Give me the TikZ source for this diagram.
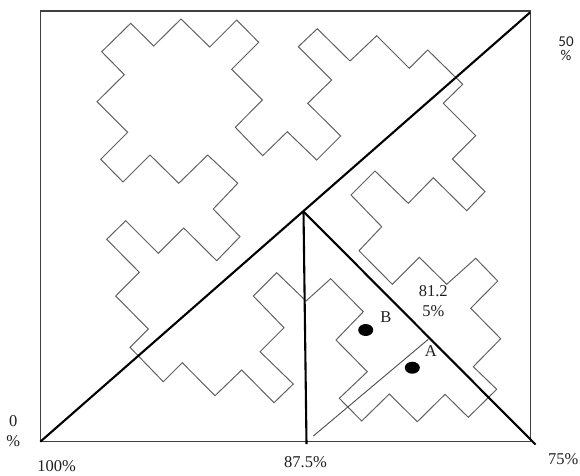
\documentclass[tikz,border=0pt]{standalone}
\usepackage{fontspec}
\setmainfont{Liberation Serif}
\newfontfamily\sanslbl{Carlito}
\usetikzlibrary{shapes.geometric}
\begin{document}
\begin{tikzpicture}[x=1pt,y=-1pt,
  frame/.style={draw=black!75, line width=1.3pt},
  heavy/.style={draw=black, line width=2.1pt},
  zig/.style={draw=black!62, line width=1pt, line join=miter},
  thinline/.style={draw=black!70, line width=0.9pt},
  lbl/.style={anchor=base, inner sep=0pt, font=\fontsize{16.5}{18}\selectfont, text=black!88},
  slbl/.style={lbl, font=\sanslbl\fontsize{15}{17}\selectfont},
  dotmark/.style={ellipse, fill=black, inner sep=0pt, minimum width=15pt, minimum height=12pt}
]
\useasboundingbox (0,0) rectangle (580,475);

% corners of the square and the meeting point of the inner lines
\coordinate (BL) at (40.3,441.7);
\coordinate (TR) at (530,12.5);
\coordinate (apex) at (303.5,211.5);
\coordinate (foot) at (306.5,444);
\coordinate (BR) at (535.5,444.5);
\coordinate (lineS) at (313.3,436);
\coordinate (lineE) at (428.3,339.3);

% closed zigzag boundary
\draw[zig] (101.7,51.7) -- (130.7,23.3) -- (153.7,46) -- (181,19) -- (209.7,47)
  -- (236.7,20) -- (258.7,42.3) -- (231.7,69.3) -- (262.3,100) -- (235.3,127.3)
  -- (262.7,155.7) -- (287.3,131.7) -- (316.7,160) -- (340.7,136) -- (307.7,103.3)
  -- (331.7,80) -- (298.3,46.7) -- (317.3,28.7) -- (350,61) -- (376.7,35.7)
  -- (409.3,68.3) -- (427.7,50) -- (462.7,84.3) -- (443.3,103.3) -- (475.7,135.7)
  -- (452.3,159) -- (485,191.7) -- (466.7,210.7) -- (433.3,177.7) -- (408.3,203.3)
  -- (375,171) -- (351,195) -- (381.7,226.7) -- (359,250.7) -- (392.3,284.3)
  -- (419.3,257.3) -- (446.7,284.3) -- (475.7,258.3) -- (497.7,281) -- (470.7,308.3)
  -- (500.7,338.7) -- (473.3,366.7) -- (496.7,389.3) -- (468.3,417.3) -- (445,394.3)
  -- (417.3,421.7) -- (389.3,394) -- (361.7,421) -- (339.3,398.3) -- (367.3,371.7)
  -- (336,340) -- (363.3,311.7) -- (330.7,278.7) -- (306,301) -- (276.7,272.7)
  -- (253.3,296) -- (284,327.7) -- (260,351.7) -- (293.3,384) -- (274,402.7)
  -- (241.7,370) -- (215,395.7) -- (182.3,362.7) -- (163.3,381.7) -- (130,347.3)
  -- (148.3,329) -- (115.7,296) -- (139.3,272.3) -- (106.7,239.3) -- (125.7,220.7)
  -- (158.3,253.3) -- (183.7,228) -- (216.7,260.7) -- (240,236.7) -- (213.3,209)
  -- (237.7,183.3) -- (207.7,155) -- (178.7,183.3) -- (150,155) -- (123,182)
  -- (100.7,159.3) -- (127.7,132.3) -- (97,101.7) -- (124.3,74.7) -- cycle;

% square frame
\draw[frame] (40.3,11) rectangle (530.7,441.7);

% main diagonal and the inner triangle
\draw[heavy] (BL) -- (TR);
\draw[heavy] (apex) -- (foot);
\draw[heavy] (apex) -- (BR);
\draw[thinline] (lineS) -- (lineE);

% points
\node[dotmark] (dotB) at (365.7,330) {};
\node[dotmark] (dotA) at (412.3,367.7) {};
\node[lbl] (labB) at (385.8,322.7) {B};
\node[lbl] (labA) at (430.8,356) {A};

% percentages
\node[slbl] (t50) at (566,46) {50};
\node[slbl] (t50p) at (566,60.8) {\%};
\node[lbl] (t0) at (13.3,426) {0};
\node[lbl] (t0p) at (13.3,446.5) {\%};
\node[lbl] (t100) at (56.5,471.3) {100\%};
\node[lbl] (t875) at (305.5,467.5) {87.5\%};
\node[lbl] (t75) at (563.3,464) {75\%};
\node[lbl] (t8125a) at (433.3,296.7) {81.2};
\node[lbl] (t8125b) at (433.3,316.7) {5\%};
\end{tikzpicture}
\end{document}
